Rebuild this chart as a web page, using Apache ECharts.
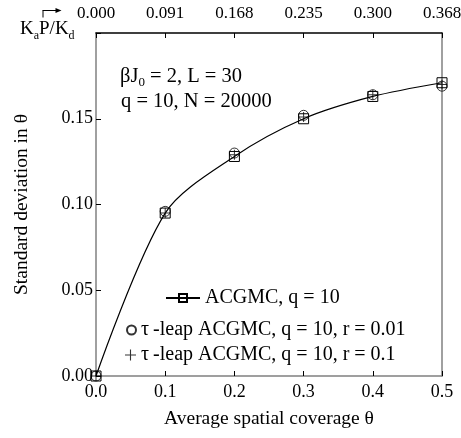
<!DOCTYPE html>
<html>
<head>
<meta charset="utf-8">
<script src="https://cdn.jsdelivr.net/npm/echarts@6/dist/echarts.min.js"></script>
<style>
  html, body { margin: 0; padding: 0; background: #fff; }
  #chart { width: 461px; height: 438px; }
</style>
</head>
<body>
<div id="chart"></div>
<script>
// coverage values (bottom axis) and matching K_aP/K_d labels (top axis)
const coverage = [0.0, 0.1, 0.2, 0.3, 0.4, 0.5]
const topLabels = ['0.000', '0.091', '0.168', '0.235', '0.300', '0.368']

// standard deviation in theta
const acgmc = [0.0, 0.095, 0.128, 0.150, 0.163, 0.171]
const tauLeap001 = [0.0, 0.096, 0.130, 0.152, 0.164, 0.169]
const tauLeap01 = [0.0, 0.095, 0.129, 0.151, 0.164, 0.170]

const FONT = 'Liberation Serif'
const PLUS = 'path://M-0.6,-6 L0.6,-6 L0.6,-0.6 L6,-0.6 L6,0.6 L0.6,0.6 L0.6,6 L-0.6,6 L-0.6,0.6 L-6,0.6 L-6,-0.6 L-0.6,-0.6 Z'

function pairs(ys) {
  return coverage.map((x, i) => [x, ys[i]])
}

const chart = echarts.init(document.getElementById('chart'))

const legendText = { color: '#000', fontFamily: FONT, fontSize: 20 }
const tickFont = { color: '#000', fontFamily: FONT, fontSize: 18 }

chart.setOption({
  animation: false,
  grid: { left: 96, right: 19, top: 33, bottom: 62, outerBoundsMode: 'none', containLabel: false },
  xAxis: [
    {
      type: 'value',
      position: 'bottom',
      min: 0,
      max: 0.5,
      interval: 0.1,
      name: 'Average spatial coverage θ',
      nameLocation: 'middle',
      nameGap: 33,
      nameTextStyle: { color: '#000', fontFamily: FONT, fontSize: 19.5 },
      axisLine: { onZero: false, lineStyle: { color: '#808080', width: 1.5 } },
      axisTick: { inside: true, length: 5, lineStyle: { color: '#000' } },
      axisLabel: { ...tickFont, margin: 7, formatter: v => v.toFixed(1) },
      splitLine: { show: false }
    },
    {
      type: 'value',
      position: 'top',
      min: 0,
      max: 0.5,
      interval: 0.1,
      axisLine: { onZero: false, lineStyle: { color: '#000', width: 1.5 } },
      axisTick: { inside: true, length: 5, lineStyle: { color: '#000' } },
      axisLabel: { ...tickFont, fontSize: 17, margin: 11, formatter: v => topLabels[Math.round(v * 10)] },
      splitLine: { show: false }
    }
  ],
  yAxis: [
    {
      type: 'value',
      min: 0,
      max: 0.2,
      interval: 0.05,
      name: 'Standard deviation in θ',
      nameLocation: 'middle',
      nameGap: 64,
      nameTextStyle: { color: '#000', fontFamily: FONT, fontSize: 19.5 },
      axisLine: { show: true, onZero: false, lineStyle: { color: '#808080', width: 1.5 } },
      axisTick: { inside: true, length: 5, lineStyle: { color: '#000' } },
      axisLabel: { ...tickFont, margin: 3, formatter: v => (v > 0.19 ? '' : v.toFixed(2)) },
      splitLine: { show: false }
    },
    {
      type: 'value',
      position: 'right',
      min: 0,
      max: 0.2,
      axisLine: { show: true, onZero: false, lineStyle: { color: '#808080', width: 1.5 } },
      axisTick: { show: false },
      axisLabel: { show: false },
      splitLine: { show: false }
    }
  ],
  legend: [
    {
      data: ['ACGMC, q = 10'],
      left: 165,
      top: 288,
      padding: 0,
      itemWidth: 34,
      itemHeight: 10,
      textStyle: legendText
    },
    {
      data: ['τ\u2009-leap ACGMC, q = 10, r = 0.01'],
      left: 126,
      top: 320,
      padding: 0,
      itemWidth: 9,
      itemHeight: 9,
      textStyle: legendText
    },
    {
      data: ['τ\u2009-leap ACGMC, q = 10, r = 0.1'],
      left: 125,
      top: 345,
      padding: 0,
      itemWidth: 11,
      itemHeight: 11,
      textStyle: legendText
    }
  ],
  graphic: [
    {
      type: 'text',
      left: 120,
      top: 66,
      style: {
        text: '{n|βJ}{s|0}{n| = 2, L = 30}',
        fill: '#000',
        rich: {
          n: { fontFamily: FONT, fontSize: 20.5, fill: '#000' },
          s: { fontFamily: FONT, fontSize: 13, fill: '#000', padding: [12, 0, 0, 0] }
        }
      }
    },
    {
      type: 'text',
      left: 121,
      top: 91,
      style: {
        text: 'q = 10, N = 20000',
        fill: '#000',
        font: '20.5px "Liberation Serif"'
      }
    },
    {
      type: 'text',
      left: 20,
      top: 20,
      style: {
        text: '{n|K}{s|a}{n|P/K}{s|d}',
        fill: '#000',
        rich: {
          n: { fontFamily: FONT, fontSize: 19, fill: '#000' },
          s: { fontFamily: FONT, fontSize: 12, fill: '#000', padding: [12, 0, 0, 0] }
        }
      }
    },
    {
      type: 'group',
      left: 40,
      top: 8,
      children: [
        { type: 'line', shape: { x1: 0, y1: 3, x2: 17, y2: 3 }, style: { stroke: '#000', lineWidth: 1 } },
        { type: 'polygon', shape: { points: [[13, 0.5], [19, 3], [13, 5.5]] }, style: { fill: '#000' } },
        { type: 'line', shape: { x1: 0.5, y1: 3, x2: 0.5, y2: 10 }, style: { stroke: '#000', lineWidth: 1 } }
      ]
    }
  ],
  series: [
    {
      name: 'ACGMC, q = 10',
      type: 'line',
      xAxisIndex: 0,
      yAxisIndex: 0,
      data: pairs(acgmc),
      smooth: 0.3,
      symbol: 'rect',
      symbolSize: 10,
      lineStyle: { color: '#000', width: 1.2 },
      itemStyle: { color: 'rgba(0,0,0,0)', borderColor: '#000', borderWidth: 1 },
      z: 3
    },
    {
      name: 'τ\u2009-leap ACGMC, q = 10, r = 0.01',
      type: 'scatter',
      xAxisIndex: 0,
      yAxisIndex: 0,
      data: pairs(tauLeap001),
      symbol: 'circle',
      symbolSize: 10,
      itemStyle: { color: 'rgba(0,0,0,0)', borderColor: '#000', borderWidth: 1 },
      z: 4
    },
    {
      name: 'τ\u2009-leap ACGMC, q = 10, r = 0.1',
      type: 'scatter',
      xAxisIndex: 0,
      yAxisIndex: 0,
      data: pairs(tauLeap01),
      symbol: PLUS,
      symbolSize: 10,
      itemStyle: { color: '#000' },
      z: 5
    }
  ]
})
</script>
</body>
</html>
